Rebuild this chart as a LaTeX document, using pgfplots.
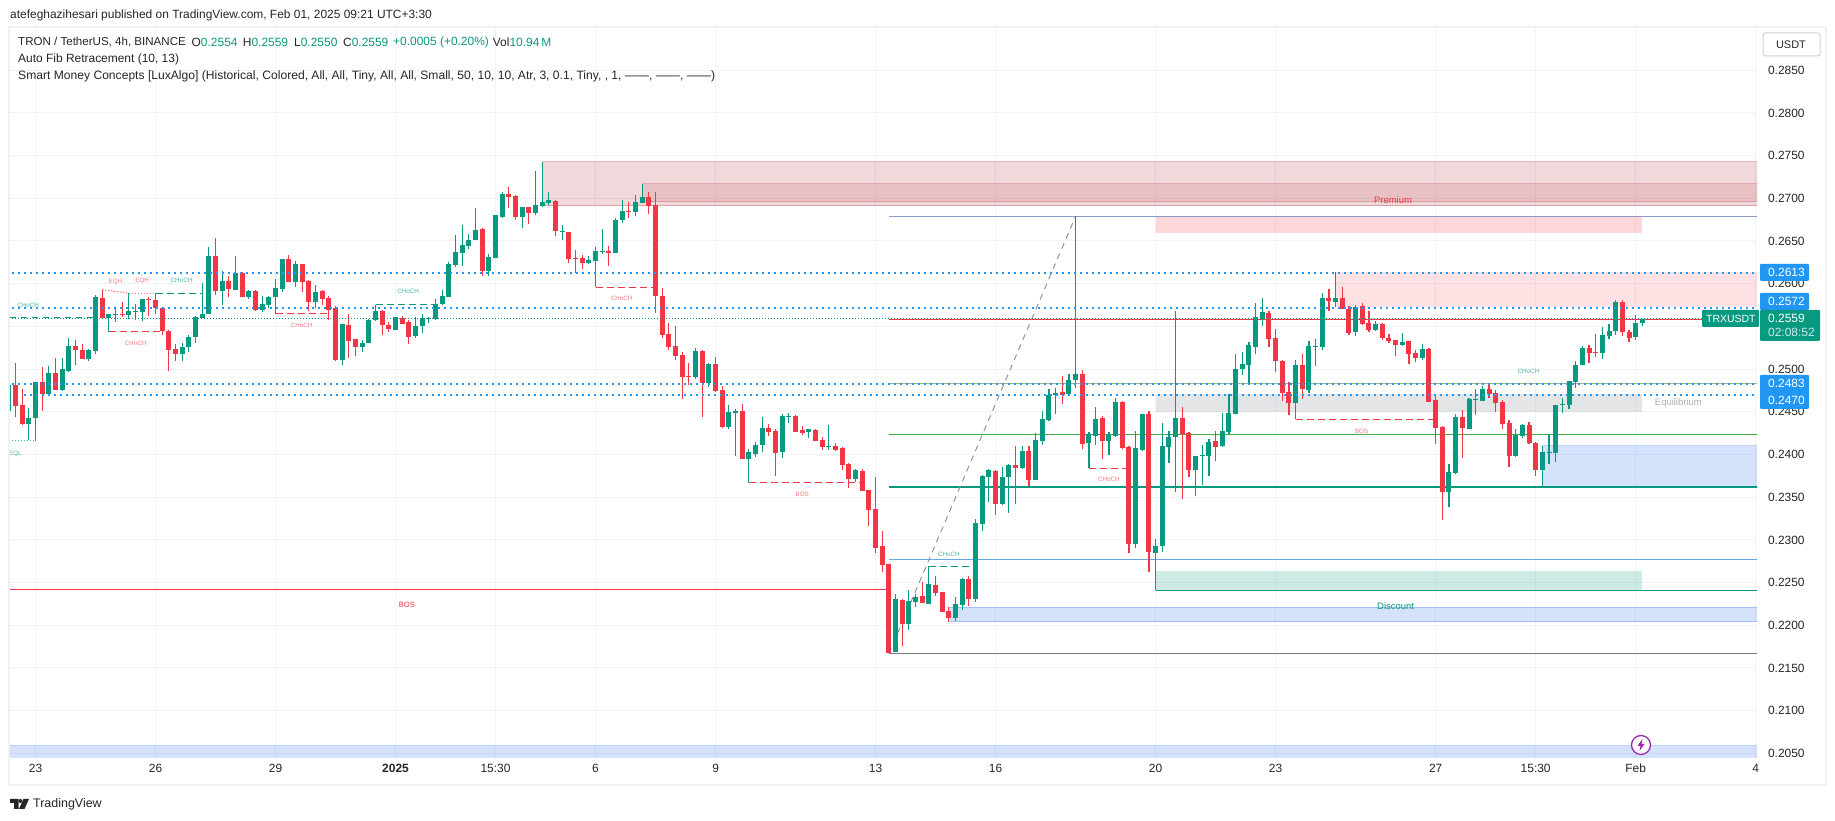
\documentclass[border=0pt]{standalone}
\usepackage{fontspec}
\setmainfont{Liberation Sans}
\usepackage{pgfplots}
\usepackage{pgfplotstable}
\pgfplotsset{compat=1.18}
\definecolor{up}{HTML}{089981}
\definecolor{dn}{HTML}{F23645}
\definecolor{gridc}{HTML}{F0F3FA}
\definecolor{dots}{HTML}{2196F3}
\definecolor{frame}{HTML}{F0F1F3}
\definecolor{dred}{HTML}{B22833}
\definecolor{zblue}{HTML}{2F6FF0}
\definecolor{zgray}{HTML}{878B94}
\definecolor{lred}{HTML}{F77C80}
\definecolor{lgreen}{HTML}{4DB6A5}
\definecolor{fibtop}{HTML}{8D9AC4}
\definecolor{fibolive}{HTML}{A8B57F}
\definecolor{fibgreen}{HTML}{3FAE46}
\definecolor{fibblue}{HTML}{64A8E6}
\definecolor{fibgray}{HTML}{787B86}
\definecolor{purp}{HTML}{9C27B0}
\pgfplotstableread{
k o h l c
-4 0.2451 0.2481 0.2451 0.2481
-1 0.2436 0.2455 0.2417 0.2443
0 0.2443 0.2485 0.2416 0.2485
2 0.2471 0.2504 0.2470 0.2495
4 0.2475 0.2513 0.2474 0.2500
5 0.2498 0.2536 0.2497 0.2527
8 0.2512 0.2524 0.2509 0.2522
9 0.2521 0.2587 0.2518 0.2584
11 0.2560 0.2565 0.2544 0.2564
12 0.2563 0.2572 0.2555 0.2564
14 0.2563 0.2589 0.2559 0.2568
15 0.2567 0.2576 0.2557 0.2568
16 0.2567 0.2582 0.2556 0.2582
22 0.2518 0.2530 0.2509 0.2526
23 0.2526 0.2540 0.2520 0.2537
24 0.2537 0.2562 0.2531 0.2561
25 0.2560 0.2601 0.2560 0.2564
26 0.2564 0.2643 0.2564 0.2632
28 0.2591 0.2615 0.2575 0.2603
30 0.2593 0.2632 0.2593 0.2612
32 0.2584 0.2593 0.2582 0.2591
34 0.2569 0.2586 0.2567 0.2576
35 0.2575 0.2586 0.2572 0.2584
36 0.2584 0.2605 0.2565 0.2595
37 0.2594 0.2629 0.2590 0.2629
39 0.2602 0.2626 0.2596 0.2623
42 0.2578 0.2598 0.2571 0.2590
46 0.2511 0.2553 0.2505 0.2553
49 0.2526 0.2534 0.2520 0.2530
50 0.2531 0.2559 0.2530 0.2557
51 0.2557 0.2575 0.2556 0.2568
54 0.2546 0.2561 0.2546 0.2561
57 0.2539 0.2561 0.2536 0.2551
58 0.2550 0.2564 0.2542 0.2560
59 0.2559 0.2561 0.2554 0.2560
60 0.2559 0.2582 0.2557 0.2576
61 0.2576 0.2593 0.2575 0.2586
62 0.2585 0.2625 0.2585 0.2623
63 0.2622 0.2657 0.2620 0.2637
64 0.2636 0.2669 0.2621 0.2645
65 0.2644 0.2658 0.2641 0.2651
66 0.2651 0.2689 0.2651 0.2663
68 0.2615 0.2635 0.2609 0.2631
69 0.2630 0.2681 0.2630 0.2680
70 0.2678 0.2707 0.2677 0.2705
73 0.2678 0.2690 0.2665 0.2690
75 0.2683 0.2732 0.2680 0.2692
76 0.2691 0.2743 0.2690 0.2696
77 0.2695 0.2707 0.2692 0.2698
79 0.2661 0.2669 0.2651 0.2662
83 0.2624 0.2633 0.2623 0.2628
84 0.2627 0.2643 0.2596 0.2638
85 0.2637 0.2664 0.2635 0.2638
87 0.2636 0.2677 0.2636 0.2675
88 0.2675 0.2698 0.2671 0.2685
90 0.2684 0.2704 0.2679 0.2696
91 0.2695 0.2717 0.2695 0.2702
99 0.2491 0.2525 0.2488 0.2521
101 0.2484 0.2507 0.2479 0.2506
104 0.2432 0.2458 0.2430 0.2450
105 0.2449 0.2453 0.2398 0.2451
107 0.2395 0.2407 0.2367 0.2403
108 0.2401 0.2415 0.2397 0.2411
109 0.2411 0.2444 0.2403 0.2431
112 0.2403 0.2447 0.2396 0.2445
113 0.2444 0.2449 0.2437 0.2445
116 0.2426 0.2430 0.2419 0.2430
119 0.2409 0.2435 0.2405 0.2410
123 0.2371 0.2383 0.2368 0.2382
129 0.2169 0.2237 0.2169 0.2231
131 0.2202 0.2241 0.2195 0.2228
132 0.2227 0.2237 0.2221 0.2233
134 0.2225 0.2269 0.2225 0.2248
138 0.2209 0.2233 0.2205 0.2225
139 0.2224 0.2255 0.2218 0.2254
141 0.2231 0.2324 0.2227 0.2320
142 0.2319 0.2376 0.2310 0.2375
143 0.2374 0.2383 0.2344 0.2382
145 0.2342 0.2385 0.2341 0.2374
146 0.2374 0.2389 0.2332 0.2388
148 0.2384 0.2410 0.2383 0.2404
150 0.2370 0.2425 0.2370 0.2417
151 0.2416 0.2451 0.2411 0.2442
152 0.2440 0.2477 0.2439 0.2470
153 0.2470 0.2478 0.2447 0.2472
155 0.2471 0.2494 0.2468 0.2487
156 0.2487 0.2679 0.2478 0.2494
158 0.2413 0.2426 0.2384 0.2424
159 0.2422 0.2456 0.2411 0.2442
161 0.2416 0.2426 0.2399 0.2423
162 0.2422 0.2466 0.2420 0.2461
165 0.2295 0.2428 0.2290 0.2408
166 0.2405 0.2447 0.2404 0.2447
168 0.2285 0.2301 0.2241 0.2293
169 0.2293 0.2437 0.2286 0.2410
170 0.2409 0.2428 0.2390 0.2420
171 0.2420 0.2568 0.2356 0.2443
174 0.2382 0.2398 0.2351 0.2398
175 0.2398 0.2411 0.2364 0.2399
176 0.2398 0.2418 0.2375 0.2415
178 0.2410 0.2449 0.2409 0.2428
179 0.2426 0.2471 0.2424 0.2449
180 0.2447 0.2518 0.2447 0.2500
181 0.2500 0.2520 0.2493 0.2506
182 0.2505 0.2532 0.2484 0.2528
183 0.2526 0.2577 0.2518 0.2561
184 0.2559 0.2583 0.2550 0.2567
189 0.2460 0.2511 0.2441 0.2505
191 0.2476 0.2533 0.2472 0.2527
192 0.2526 0.2535 0.2504 0.2527
193 0.2526 0.2589 0.2522 0.2583
195 0.2579 0.2614 0.2573 0.2583
198 0.2543 0.2575 0.2539 0.2573
201 0.2546 0.2556 0.2545 0.2553
205 0.2528 0.2542 0.2527 0.2532
208 0.2513 0.2529 0.2511 0.2524
212 0.2356 0.2389 0.2339 0.2380
213 0.2378 0.2447 0.2377 0.2444
215 0.2430 0.2466 0.2430 0.2465
216 0.2464 0.2477 0.2446 0.2465
217 0.2463 0.2480 0.2463 0.2477
222 0.2398 0.2430 0.2397 0.2423
223 0.2422 0.2436 0.2419 0.2435
226 0.2382 0.2410 0.2361 0.2403
227 0.2402 0.2424 0.2389 0.2403
228 0.2402 0.2458 0.2391 0.2458
229 0.2458 0.2466 0.2449 0.2459
230 0.2458 0.2486 0.2453 0.2486
231 0.2485 0.2509 0.2478 0.2505
232 0.2505 0.2527 0.2505 0.2525
235 0.2519 0.2549 0.2512 0.2540
236 0.2539 0.2553 0.2535 0.2545
237 0.2545 0.2581 0.2540 0.2579
240 0.2538 0.2563 0.2534 0.2554
241 0.2554 0.2559 0.2550 0.2559
}\upt
\pgfplotstableread{
k o h l c
-3 0.2481 0.2507 0.2444 0.2457
-2 0.2458 0.2477 0.2435 0.2436
1 0.2485 0.2502 0.2451 0.2471
3 0.2495 0.2513 0.2475 0.2475
6 0.2527 0.2534 0.2505 0.2522
7 0.2522 0.2529 0.2512 0.2512
10 0.2583 0.2593 0.2560 0.2560
13 0.2565 0.2579 0.2561 0.2564
17 0.2582 0.2584 0.2562 0.2581
18 0.2581 0.2589 0.2564 0.2572
19 0.2572 0.2572 0.2540 0.2545
20 0.2545 0.2546 0.2498 0.2522
21 0.2524 0.2529 0.2509 0.2518
27 0.2632 0.2654 0.2587 0.2591
29 0.2603 0.2609 0.2584 0.2594
31 0.2612 0.2614 0.2584 0.2584
33 0.2591 0.2593 0.2568 0.2569
38 0.2629 0.2634 0.2602 0.2602
40 0.2623 0.2623 0.2590 0.2602
41 0.2603 0.2604 0.2568 0.2578
43 0.2591 0.2593 0.2575 0.2582
44 0.2583 0.2586 0.2558 0.2569
45 0.2572 0.2574 0.2509 0.2511
47 0.2552 0.2564 0.2513 0.2533
48 0.2535 0.2535 0.2515 0.2526
52 0.2568 0.2569 0.2540 0.2552
53 0.2552 0.2555 0.2543 0.2547
55 0.2560 0.2562 0.2553 0.2553
56 0.2555 0.2557 0.2529 0.2538
67 0.2664 0.2665 0.2609 0.2615
71 0.2705 0.2713 0.2689 0.2702
72 0.2703 0.2704 0.2675 0.2678
74 0.2690 0.2690 0.2670 0.2683
78 0.2697 0.2698 0.2656 0.2662
80 0.2661 0.2661 0.2624 0.2629
81 0.2630 0.2640 0.2613 0.2629
82 0.2630 0.2634 0.2617 0.2624
86 0.2638 0.2644 0.2621 0.2636
89 0.2685 0.2696 0.2677 0.2684
92 0.2702 0.2707 0.2682 0.2691
93 0.2692 0.2707 0.2566 0.2586
94 0.2586 0.2595 0.2536 0.2540
95 0.2541 0.2554 0.2522 0.2526
96 0.2527 0.2551 0.2511 0.2515
97 0.2516 0.2520 0.2465 0.2491
98 0.2492 0.2507 0.2481 0.2491
100 0.2521 0.2522 0.2444 0.2484
102 0.2506 0.2514 0.2473 0.2474
103 0.2476 0.2480 0.2431 0.2432
106 0.2451 0.2459 0.2395 0.2395
110 0.2431 0.2436 0.2422 0.2426
111 0.2428 0.2430 0.2375 0.2402
114 0.2445 0.2446 0.2426 0.2426
115 0.2429 0.2433 0.2423 0.2425
117 0.2429 0.2430 0.2416 0.2416
118 0.2417 0.2420 0.2405 0.2409
120 0.2410 0.2413 0.2404 0.2405
121 0.2408 0.2409 0.2382 0.2388
122 0.2389 0.2390 0.2361 0.2371
124 0.2381 0.2383 0.2357 0.2357
125 0.2358 0.2359 0.2316 0.2335
126 0.2336 0.2374 0.2285 0.2291
127 0.2293 0.2310 0.2262 0.2271
128 0.2272 0.2272 0.2167 0.2167
130 0.2230 0.2231 0.2176 0.2202
133 0.2234 0.2251 0.2226 0.2226
135 0.2247 0.2258 0.2234 0.2238
136 0.2239 0.2239 0.2216 0.2216
137 0.2217 0.2221 0.2204 0.2209
140 0.2254 0.2258 0.2223 0.2231
144 0.2381 0.2382 0.2329 0.2342
147 0.2388 0.2410 0.2342 0.2384
149 0.2404 0.2410 0.2363 0.2370
154 0.2473 0.2492 0.2459 0.2470
157 0.2494 0.2499 0.2406 0.2412
160 0.2443 0.2445 0.2395 0.2416
163 0.2461 0.2463 0.2406 0.2408
164 0.2409 0.2410 0.2285 0.2295
167 0.2447 0.2451 0.2262 0.2286
172 0.2443 0.2456 0.2348 0.2424
173 0.2425 0.2426 0.2374 0.2382
177 0.2416 0.2428 0.2392 0.2409
185 0.2566 0.2568 0.2526 0.2535
186 0.2536 0.2547 0.2497 0.2509
187 0.2509 0.2511 0.2463 0.2472
188 0.2473 0.2485 0.2446 0.2460
190 0.2505 0.2518 0.2465 0.2477
194 0.2583 0.2594 0.2568 0.2580
196 0.2583 0.2596 0.2570 0.2570
197 0.2570 0.2574 0.2540 0.2542
199 0.2574 0.2577 0.2552 0.2553
200 0.2554 0.2568 0.2543 0.2546
202 0.2553 0.2554 0.2534 0.2536
203 0.2536 0.2541 0.2531 0.2533
204 0.2534 0.2534 0.2515 0.2528
206 0.2533 0.2533 0.2506 0.2518
207 0.2519 0.2522 0.2508 0.2513
209 0.2524 0.2525 0.2462 0.2462
210 0.2464 0.2470 0.2412 0.2431
211 0.2432 0.2433 0.2323 0.2356
214 0.2444 0.2452 0.2396 0.2431
218 0.2477 0.2484 0.2466 0.2471
219 0.2472 0.2476 0.2450 0.2460
220 0.2461 0.2464 0.2430 0.2436
221 0.2437 0.2440 0.2385 0.2398
224 0.2435 0.2438 0.2412 0.2413
225 0.2413 0.2415 0.2375 0.2382
233 0.2525 0.2528 0.2507 0.2519
234 0.2520 0.2541 0.2514 0.2519
238 0.2579 0.2581 0.2539 0.2543
239 0.2543 0.2546 0.2532 0.2536
}\dnt
% zone: colour, fill alpha, border alpha, k1, k2, p1, p2
\newcommand\zone[7]{\addplot[forget plot,mark=none,fill=#1,fill opacity=#2,draw=#1,draw opacity=#3,line width=1bp] coordinates {(#4,#6)(#5,#6)(#5,#7)(#4,#7)} --cycle;}
\newcommand\hl[6]{\addplot[forget plot,mark=none,color=#1,#2] coordinates {(#3,#5)(#4,#6)};}
\newcommand\lab[5]{\node[text=#1,font=\fontsize{#2}{#2}\selectfont,inner sep=0pt] at (axis cs:#3,#4) {#5};}
\newcommand\candles[3]{%
\addplot[forget plot,draw=none,mark=none,error bars/.cd,y dir=plus,y explicit,error mark=none,error bar style={draw=#2,line width=1.1bp}] table[x=k,y=l,y error plus expr=\thisrow{h}-\thisrow{l}] {#1};
\addplot[forget plot,draw=none,mark=none,error bars/.cd,y dir=plus,y explicit,error mark=none,error bar style={draw=#2,line width=5bp}] table[x=k,y=#3,y error plus expr=abs(\thisrow{c}-\thisrow{o})] {#1};
}
\begin{document}
\begin{tikzpicture}
\path[use as bounding box,fill=white] (0,0) rectangle (1835bp,821bp);
\begin{scope}[x=1bp,y=-1bp,shift={(0bp,821bp)}]
\draw[frame,line width=2.5bp] (9,27) rectangle (1826,785);
\end{scope}
\begin{axis}[at={(10bp,63bp)},anchor=south west,scale only axis,width=1747bp,height=731bp,
 xmin=-3.825,xmax=258.2,ymin=0.20446,ymax=0.29006,
 axis line style={draw=none},tick style={draw=none},
 grid=major,grid style={draw=gridc,line width=1bp},
 xtick={0,18,36,54,69,84,102,126,144,168,186,210,225,240,258},
 xticklabels={23,26,29,\textbf{2025},15:30,6,9,13,16,20,23,27,15:30,Feb,4},
 ytick={0.205,0.21,0.215,0.22,0.225,0.23,0.235,0.24,0.245,0.25,0.255,0.26,0.265,0.27,0.275,0.28,0.285},
 yticklabel pos=right,scaled y ticks=false,
 ticklabel style={font=\fontsize{12}{14}\selectfont,text=black!85},
 yticklabel style={/pgf/number format/fixed,/pgf/number format/fixed zerofill,/pgf/number format/precision=4,/pgf/number format/assume math mode=true,anchor=west,xshift=7.5bp},
 xticklabel style={anchor=center,yshift=-10bp},
]
% zones
\zone{dred}{0.18}{0.3}{76}{262}{0.2691}{0.2743}
\zone{dred}{0.13}{0.25}{91}{262}{0.2696}{0.2717}
\zone{dn}{0.2}{0}{168}{241}{0.2659}{0.2678}
\zone{dn}{0.15}{0}{195}{262}{0.2573}{0.2614}
\zone{zgray}{0.22}{0}{168}{241}{0.2450}{0.2471}
\zone{up}{0.2}{0}{168}{241}{0.2241}{0.2264}
\zone{zblue}{0.2}{0.3}{137}{262}{0.2204}{0.2221}
\zone{zblue}{0.2}{0.3}{226}{262}{0.2362}{0.2410}
\zone{zblue}{0.2}{0.3}{-8}{262}{0.2000}{0.20587}
% fib levels
\hl{fibtop}{line width=1.2bp}{128}{262}{0.2679}{0.2679}
\hl{dn}{line width=1.2bp}{128}{262}{0.2558}{0.2558}
\hl{fibolive}{line width=1.2bp}{128}{262}{0.24835}{0.24835}
\hl{fibgreen}{line width=1.3bp}{128}{262}{0.24236}{0.24236}
\hl{up}{line width=1.2bp}{128}{262}{0.2362}{0.2362}
\hl{fibblue}{line width=1.2bp}{128}{262}{0.2277}{0.2277}
\hl{fibgray}{line width=1.2bp}{128}{262}{0.2167}{0.2167}
\hl{fibgray!80}{line width=1bp,dash pattern=on 6bp off 5bp}{128}{156}{0.2167}{0.2679}
% structure lines
\hl{dn}{line width=1bp}{-8}{128}{0.2242}{0.2242}
\hl{up}{line width=1.2bp}{168}{262}{0.2241}{0.2241}
\hl{up}{line width=1bp,dash pattern=on 6bp off 5bp}{-3.8}{9}{0.2560}{0.2560}
\hl{up}{line width=1bp,dash pattern=on 7bp off 4bp}{18}{25}{0.2588}{0.2588}
\hl{dn}{line width=1bp,dash pattern=on 7bp off 4bp}{11}{19}{0.2544}{0.2544}
\hl{dn}{line width=1bp,dash pattern=on 7bp off 4bp}{36}{44}{0.2565}{0.2565}
\hl{up}{line width=1bp,dash pattern=on 7bp off 4bp}{51}{60}{0.2576}{0.2576}
\hl{dn}{line width=1bp,dash pattern=on 7bp off 4bp}{84}{93}{0.2596}{0.2596}
\hl{dn}{line width=1bp,dash pattern=on 7bp off 4bp}{107}{124}{0.2367}{0.2367}
\hl{up}{line width=1bp,dash pattern=on 7bp off 4bp}{134}{141}{0.2269}{0.2269}
\hl{dn}{line width=1bp,dash pattern=on 7bp off 4bp}{158}{164}{0.2384}{0.2384}
\hl{dn}{line width=1bp,dash pattern=on 7bp off 4bp}{189}{210}{0.2441}{0.2441}
\hl{lred}{line width=1bp,dash pattern=on 1.5bp off 1.5bp}{10}{14}{0.2593}{0.2589}
\hl{lred}{line width=1bp,dash pattern=on 1.5bp off 1.5bp}{14}{18}{0.2588}{0.2588}
\hl{lgreen}{line width=1bp,dash pattern=on 1.5bp off 1.5bp}{-4}{0}{0.2416}{0.2416}
% candles
\candles{\upt}{up}{o}
\candles{\dnt}{dn}{c}
% dotted levels over the candles
\hl{up}{line width=1bp,dash pattern=on 1bp off 2bp}{-8}{262}{0.2559}{0.2559}
\hl{dots}{line width=2bp,dash pattern=on 2bp off 4bp}{-8}{262}{0.2613}{0.2613}
\hl{dots}{line width=2bp,dash pattern=on 2bp off 4bp}{-8}{262}{0.2572}{0.2572}
\hl{dots}{line width=2bp,dash pattern=on 2bp off 4bp}{-8}{262}{0.2483}{0.2483}
\hl{dots}{line width=2bp,dash pattern=on 2bp off 4bp}{-1.8}{262}{0.2470}{0.2470}
% labels
\lab{lred}{6.3}{12}{0.2602}{EQH}
\lab{lred}{6.3}{16}{0.26035}{EQH}
\lab{lgreen}{6.3}{21.9}{0.26035}{CHoCH}
\lab{lgreen}{6.3}{-1.1}{0.2575}{CHoCH}
\lab{lgreen}{6.3}{55.9}{0.25906}{CHoCH}
\lab{lred}{6.3}{15}{0.2530}{CHoCH}
\lab{lred}{6.3}{39.9}{0.2551}{CHoCH}
\lab{lgreen}{6.3}{-3}{0.2401}{EQL}
\lab{lred}{6.3}{87.9}{0.25825}{CHoCH}
\lab{lred}{6.3}{115}{0.2353}{BOS}
\lab{lgreen}{6.3}{137}{0.2283}{CHoCH}
\lab{lred}{6.3}{161}{0.23705}{CHoCH}
\lab{lred}{6.3}{198.9}{0.2427}{BOS}
\lab{lgreen}{6.3}{223.9}{0.2497}{CHoCH}
\lab{dn}{7.7}{55.7}{0.2224}{BOS}
\lab{dn}{9.5}{203.6}{0.2698}{Premium}
\lab{up}{9.5}{204}{0.2223}{Discount}
\lab{zgray!70}{9.5}{246.4}{0.24607}{Equilibrium}
\end{axis}
\begin{scope}[x=1bp,y=-1bp,shift={(0bp,821bp)},every node/.style={inner sep=0pt,anchor=west,font=\fontsize{12}{14}\selectfont,text=black!85}]
\node at (10,15) {atefeghazihesari published on TradingView.com, Feb 01, 2025 09:21 UTC+3:30};
\node[font=\fontsize{11.6}{14}\selectfont] at (18,42) {TRON / TetherUS, 4h, BINANCE};
\node at (191.5,42) {O\textcolor{up}{0.2554}};
\node at (242.7,42) {H\textcolor{up}{0.2559}};
\node at (294,42) {L\textcolor{up}{0.2550}};
\node at (343,42) {C\textcolor{up}{0.2559}};
\node at (393,42) {\textcolor{up}{+0.0005 (+0.20\%)}};
\node at (492.7,42) {Vol\textcolor{up}{10.94\,M}};
\node at (18,59) {Auto Fib Retracement (10, 13)};
\node[font=\fontsize{12.15}{14}\selectfont] at (18,76) {Smart Money Concepts [LuxAlgo] (Historical, Colored, All, All, Tiny, All, All, Small, 50, 10, 10, Atr, 3, 0.1, Tiny, , 1, ——, ——, ——)};
% USDT button
\draw[black!18,line width=1bp,rounded corners=2.5bp,fill=white] (1763,33) rectangle (1820,56);
\node[anchor=center,font=\fontsize{11}{13}\selectfont] at (1791,44.5) {USDT};
% price scale boxes
\fill[dots,rounded corners=1bp] (1760,264) rectangle (1809,281);
\fill[dots,rounded corners=1bp] (1760,293) rectangle (1809,310);
\fill[dots,rounded corners=1bp] (1760,375) rectangle (1809,409);
\fill[up,rounded corners=1bp] (1760,310) rectangle (1820,341);
\fill[up,rounded corners=1bp] (1702,310) rectangle (1759,327);
\node[text=white] at (1768,272.7) {0.2613};
\node[text=white] at (1768,301) {0.2572};
\node[text=white] at (1768,383.7) {0.2483};
\node[text=white] at (1768,400.7) {0.2470};
\node[text=white] at (1768,318.7) {0.2559};
\node[text=white!80!up] at (1768,332.7) {02:08:52};
\node[text=white,font=\fontsize{10.5}{13}\selectfont] at (1706,318.7) {TRXUSDT};
% lightning mark
\draw[purp,line width=1.3bp,fill=white] (1641,745) circle (9.5);
\fill[purp] (1642.5,739) -- (1637.5,746) -- (1640.5,746) -- (1639.5,751) -- (1644.5,744) -- (1641.5,744) -- cycle;
% logo
\fill[black!85] (10,799) -- (18.5,799) -- (18.5,809) -- (14,809) -- (14,803) -- (10,803) -- cycle;
\fill[black!85] (20.5,801) circle (2);
\fill[black!85] (23.5,799) -- (29,799) -- (24.5,809) -- (19,809) -- cycle;
\node[font=\fontsize{12.5}{14}\selectfont] at (33,804) {TradingView};
\end{scope}
\end{tikzpicture}
\end{document}
